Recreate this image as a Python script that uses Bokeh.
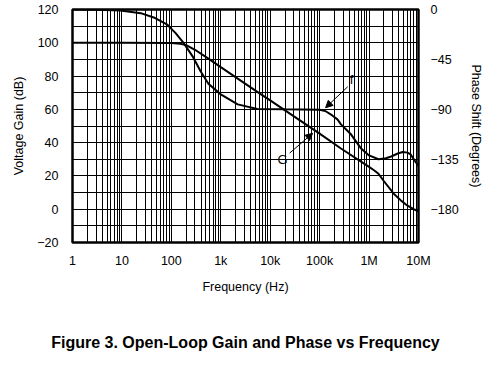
from bokeh.plotting import figure
from bokeh.models import (Range1d, LinearAxis, LogAxis, FixedTicker, Arrow,
                          NormalHead)
from bokeh.core.properties import value
from bokeh.embed import file_html
from bokeh.resources import INLINE

# ---- data ----
gain_freq = [1, 10, 100, 150, 200, 300, 562, 1000, 2200, 6300, 10000, 18600,
             100000, 270000, 1000000, 1260000, 1550000, 2000000, 3160000,
             4500000, 6000000, 8000000, 10000000]
gain_db = [100, 100, 99.8, 99.4, 98.6, 95.8, 90.5, 85.4, 78.5, 69.3, 65.4, 60,
           45.4, 36.5, 25.4, 23.4, 21.3, 16.8, 9.3, 5.0, 2.1, 0.0, -1.2]

phase_freq = [1, 3, 9.3, 24, 44, 83, 122, 178, 269, 390, 562, 1000, 2200, 5500,
              20000, 100000, 130000, 180000, 229000, 270000, 430000, 680000,
              1000000, 1550000, 2200000, 2800000, 3800000, 4800000, 6000000,
              6900000, 8300000, 10000000]
phase_deg = [0, -0.2, -0.9, -3.3, -7.2, -13.7, -21.3, -30.3, -42.2, -55.6, -67,
             -76.5, -85.5, -89.6, -90, -90.3, -91.5, -95.5, -99, -103.5, -112.5,
             -125, -131.5, -135, -134, -132.5, -129.8, -128.5, -129, -130.5,
             -136, -141]

x_ticks = [1, 10, 100, 1000, 10000, 100000, 1000000, 10000000]
x_labels = ["1", "10", "100", "1k", "10k", "100k", "1M", "10M"]
gain_ticks = [-20, 0, 20, 40, 60, 80, 100, 120]
gain_labels = ["\u221220", "0", "20", "40", "60", "80", "100", "120"]
phase_ticks = [0, -45, -90, -135, -180]
phase_labels = ["0", "\u221245", "\u221290", "\u2212135", "\u2212180"]

# annotation anchors (Hz, dB)
f_text = (4.4e5, 77.7)
f_arrow = ((3.7e5, 73.6), (1.32e5, 61.0))
g_text = (1.78e4, 30.1)
g_arrow = ((2.47e4, 33.7), (7.2e4, 45.6))

caption = "Figure 3. Open-Loop Gain and Phase vs Frequency"
caption_span = (9.36, 1e7)   # extent the caption is centred on

FONT = "Liberation Sans"

p = figure(width=500, height=373, x_axis_type="log",
           x_range=Range1d(1, 1e7), y_range=Range1d(-20, 120),
           output_backend="svg", toolbar_location=None,
           min_border_left=72, min_border_right=82, min_border_top=9,
           min_border_bottom=131)
p.extra_y_ranges = {"phase": Range1d(-210, 0)}

p.background_fill_color = "white"
p.border_fill_color = "white"
p.outline_line_color = "black"
p.outline_line_width = 2.5

minor_x = []
for d in range(7):
    for k in range(2, 10):
        minor_x.append(k * 10 ** d)
p.xaxis.ticker = FixedTicker(ticks=x_ticks, minor_ticks=minor_x)
p.yaxis.ticker = FixedTicker(ticks=gain_ticks,
                             minor_ticks=[-10, 10, 30, 50, 70, 90, 110])
p.xaxis.major_label_overrides = {t: l for t, l in zip(x_ticks, x_labels)}
p.yaxis.major_label_overrides = {t: l for t, l in zip(gain_ticks, gain_labels)}

for g in (p.xgrid, p.ygrid):
    g.grid_line_color = "black"
    g.grid_line_width = 1
    g.grid_line_alpha = 1
    g.minor_grid_line_color = "black"
    g.minor_grid_line_width = 1

left = p.left[0]
bottom = p.below[0]
left.axis_label = "Voltage Gain (dB)"
bottom.axis_label = "Frequency (Hz)"

right = LinearAxis(y_range_name="phase",
                   ticker=FixedTicker(ticks=phase_ticks),
                   axis_label="Phase Shift (Degrees)")
right.major_label_overrides = {t: l for t, l in zip(phase_ticks, phase_labels)}
right.axis_label_orientation = "vertical"
p.add_layout(right, "right")

for ax in (bottom, left, right):
    ax.axis_line_color = None
    ax.major_tick_line_color = None
    ax.minor_tick_line_color = None
    ax.major_tick_out = 6
    ax.major_label_text_font = FONT
    ax.major_label_text_font_size = "12.5px"
    ax.major_label_text_color = "black"
    ax.axis_label_text_font = FONT
    ax.axis_label_text_font_size = "12.5px"
    ax.axis_label_text_font_style = "normal"
    ax.axis_label_text_color = "black"

bottom.major_label_standoff = 5
bottom.axis_label_standoff = 9
left.major_label_standoff = 8
left.axis_label_standoff = 8
right.major_label_standoff = 6
right.axis_label_standoff = 7

# caption: a tick-less axis below the frequency axis
cap_axis = LogAxis(ticker=FixedTicker(ticks=[]), axis_label=caption,
                   bounds=caption_span)
cap_axis.axis_line_color = None
cap_axis.major_tick_line_color = None
cap_axis.minor_tick_line_color = None
cap_axis.major_tick_out = 0
cap_axis.minor_tick_out = 0
cap_axis.major_label_standoff = 0
cap_axis.axis_label_standoff = 37
cap_axis.axis_label_align = "center"
cap_axis.axis_label_text_font = FONT
cap_axis.axis_label_text_font_size = "16px"
cap_axis.axis_label_text_font_style = "bold"
cap_axis.axis_label_text_color = "black"
p.add_layout(cap_axis, "below")

# curves
p.line(gain_freq, gain_db, line_color="black", line_width=2)
p.line(phase_freq, phase_deg, y_range_name="phase", line_color="black",
       line_width=2)

# annotations
p.text(x=[f_text[0], g_text[0]], y=[f_text[1], g_text[1]], text=["f", "G"],
       text_font=value(FONT), text_font_size="13px", text_align="center",
       text_baseline="middle", text_color="black")
for (a, b) in (f_arrow, g_arrow):
    p.add_layout(Arrow(x_start=a[0], y_start=a[1], x_end=b[0], y_end=b[1],
                       line_width=1, line_color="black",
                       end=NormalHead(size=7, fill_color="black",
                                      line_color="black")))

open("out.html", "w").write(file_html(p, INLINE))
